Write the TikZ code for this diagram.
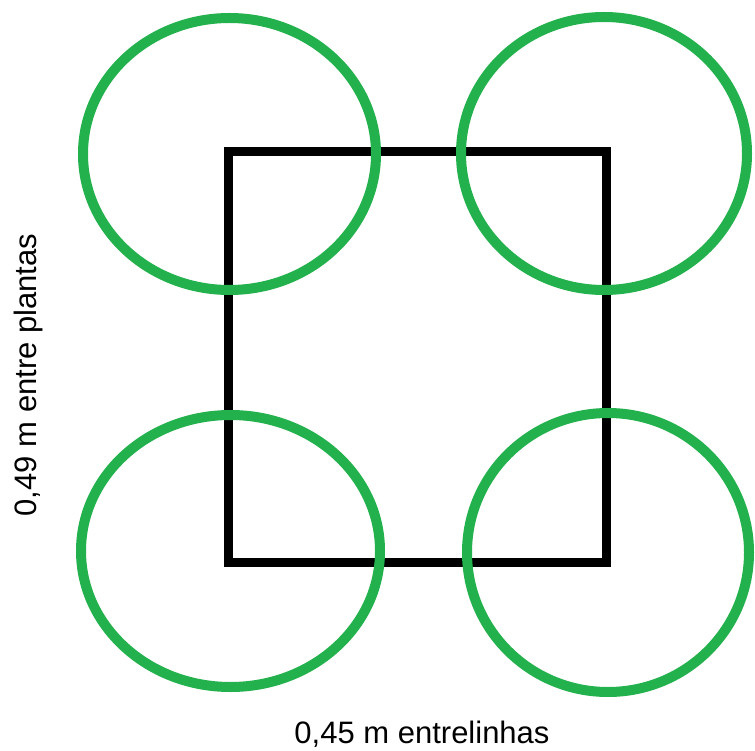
\documentclass[tikz,border=0pt]{standalone}
\usepackage{fontspec}
\setmainfont{Liberation Sans}
\definecolor{plantgreen}{HTML}{22B14C}
\begin{document}
\begin{tikzpicture}[x=1pt,y=-1pt,
  plant/.style={draw=plantgreen,line width=10pt},
  frame/.style={draw=black,line width=9pt},
  lbl/.style={font=\fontsize{31}{36}\selectfont,inner sep=0pt}]
\useasboundingbox (0,0) rectangle (755,751);
\draw[frame] (228,152) rectangle (606,562);
\draw[plant] (229.5,154) ellipse [x radius=146.5pt,y radius=136pt];
\draw[plant] (604,153.5) ellipse [x radius=143pt,y radius=136.5pt];
\draw[plant] (230.5,551) ellipse [x radius=149.5pt,y radius=136pt];
\draw[plant] (608,552.5) ellipse [x radius=141pt,y radius=139.5pt];
\node[lbl,anchor=base] (h) at (422,743) {0,45 m entrelinhas};
\node[lbl,anchor=base,rotate=90] (v) at (36,375) {0,49 m entre plantas};
\end{tikzpicture}
\end{document}
